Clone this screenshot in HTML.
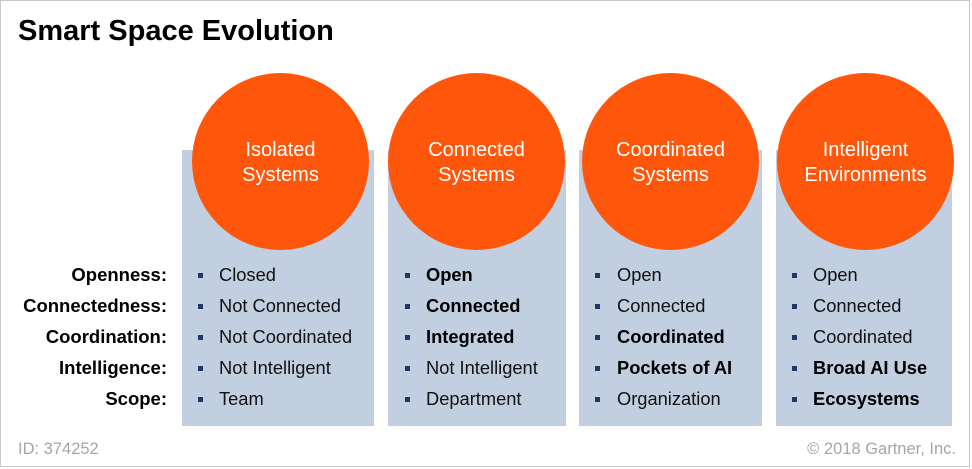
<!DOCTYPE html>
<html><head><style>
body{margin:0;width:972px;height:469px;background:#fff;font-family:"Liberation Sans",Arial,sans-serif;position:relative;overflow:hidden}
.frame{position:absolute;left:0;top:0;width:968px;height:465px;border:1px solid #c8c8c8}
.t{position:absolute;white-space:nowrap}
.panel{position:absolute;top:150px;height:276px;background:#c1cfe0}
.circ{position:absolute;top:73px;width:177px;height:177px;border-radius:50%;background:#fe560b;color:#fff;font-size:20px;line-height:25px;text-align:center;display:flex;align-items:center;justify-content:center;box-sizing:border-box;padding-top:2px}
.lab{position:absolute;right:805px;font-size:18.5px;font-weight:bold;color:#000;line-height:20px;white-space:nowrap}
.it{position:absolute;font-size:18.3px;color:#111;line-height:20px;white-space:nowrap}
.b{font-weight:bold;color:#000}
.sq{position:absolute;width:5px;height:5px;background:#1f3864}
</style></head><body>
<div class="frame"></div>
<div class="t" style="left:18px;top:15px;font-size:29px;font-weight:bold">Smart Space Evolution</div>
<div class="panel" style="left:182px;width:192px"></div>
<div class="panel" style="left:388px;width:178px"></div>
<div class="panel" style="left:579px;width:183px"></div>
<div class="panel" style="left:776px;width:176px"></div>
<div class="circ" style="left:192px">Isolated<br>Systems</div>
<div class="circ" style="left:388px">Connected<br>Systems</div>
<div class="circ" style="left:582px">Coordinated<br>Systems</div>
<div class="circ" style="left:777px">Intelligent<br>Environments</div>
<div class="lab" style="top:265px">Openness:</div>
<div class="lab" style="top:296px">Connectedness:</div>
<div class="lab" style="top:327px">Coordination:</div>
<div class="lab" style="top:358px">Intelligence:</div>
<div class="lab" style="top:389px">Scope:</div>
<div id="items"></div>
<script>
var cols=[[198,219,["Closed","Not Connected","Not Coordinated","Not Intelligent","Team"],[]],
[405,426,["Open","Connected","Integrated","Not Intelligent","Department"],[0,1,2]],
[595,617,["Open","Connected","Coordinated","Pockets of AI","Organization"],[2,3]],
[792,813,["Open","Connected","Coordinated","Broad AI Use","Ecosystems"],[3,4]]];
var h="";cols.forEach(function(c){c[2].forEach(function(s,i){var y=265+31*i;
h+='<div class="sq" style="left:'+c[0]+'px;top:'+(y+8)+'px"></div><div class="it'+(c[3].indexOf(i)>=0?' b':'')+'" style="left:'+c[1]+'px;top:'+y+'px">'+s+'</div>';});});
document.getElementById("items").innerHTML=h;
</script>
<div class="t" style="left:18px;top:440px;font-size:16.5px;color:#a6a6a6">ID: 374252</div>
<div class="t" style="right:16px;top:440px;font-size:16.5px;color:#a6a6a6">© 2018 Gartner, Inc.</div>
</body></html>
